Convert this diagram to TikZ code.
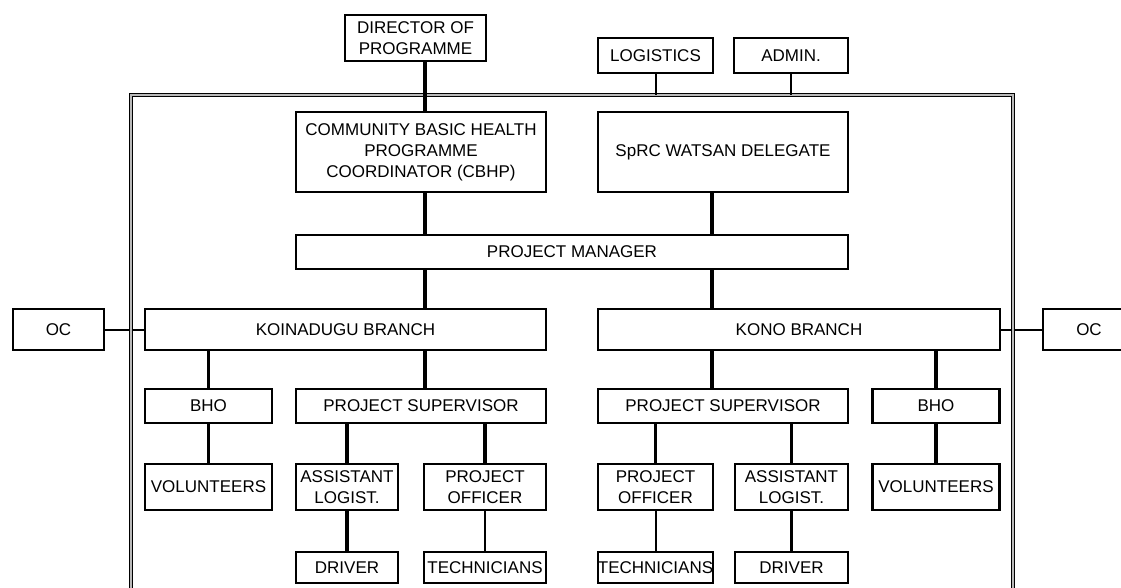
\documentclass[tikz,border=0pt]{standalone}
\usepackage{fontspec}
\setmainfont{Liberation Sans}
\usetikzlibrary{positioning}

\newcommand{\orgfont}{\fontsize{17}{21}\selectfont}

\begin{document}
\begin{tikzpicture}[
    x=1pt, y=-1pt,
    box/.style={draw, line width=2.2pt, inner sep=0pt, align=center, font=\orgfont, minimum width=#1},
    head/.style={box=#1, minimum height=46},
    staff/.style={box=#1, minimum height=35},
    lead/.style={box=#1, minimum height=80},
    bar/.style={box=#1, minimum height=34},
    branch/.style={box=#1, minimum height=41},
    post/.style={box=#1, minimum height=46},
    base/.style={box=#1, minimum height=31},
    conn/.style={line width=3.2pt},
    link/.style={line width=2pt},
    frame/.style={line width=1.1pt, double=gray!55, double distance=2pt},
]

\useasboundingbox (0,0) rectangle (1121,587);
\clip (0,0) rectangle (1121,587);

% ── Spines and frame ──
\coordinate (spineL) at (425,0);
\coordinate (spineR) at (712,0);
\coordinate (frametop) at (0,95);

% ── Top ──
\node[head=141] (dir) at (415.5,38) {DIRECTOR OF\\PROGRAMME};
\node[staff=115] (logi) at (655.5,55.5) {LOGISTICS};
\node[staff=114] (admin) at (791,55.5) {ADMIN.};

% ── Coordinators ──
\node[lead=250] (cbhp) at (421,152) {COMMUNITY BASIC HEALTH\\PROGRAMME\\COORDINATOR (CBHP)};
\node[lead=250] (watsan) at (723,152) {SpRC WATSAN DELEGATE};
\node[bar=552] (pm) at (572,252) {PROJECT MANAGER};

% ── Branches ──
\node[branch=91] (ocL) at (58.5,329.5) {OC};
\node[branch=401] (koin) at (345.5,329.5) {KOINADUGU BRANCH};
\node[branch=402] (kono) at (799,329.5) {KONO BRANCH};
\node[branch=92] (ocR) at (1089,329.5) {OC};

% ── Koinadugu side ──
\node[bar=127] (bhoL) at (208.5,406) {BHO};
\node[bar=250] (psL) at (421,406) {PROJECT SUPERVISOR};
\node[post=127] (volL) at (208.5,487) {VOLUNTEERS};
\node[post=102] (alL) at (347,487) {ASSISTANT\\LOGIST.};
\node[post=122] (poL) at (485,487) {PROJECT\\OFFICER};
\node[base=102] (drvL) at (347,567.5) {DRIVER};
\node[base=122] (techL) at (485,567.5) {TECHNICIANS};

% ── Kono side ──
\node[bar=250] (psR) at (723,406) {PROJECT SUPERVISOR};
\node[bar=127] (bhoR) at (936,406) {BHO};
\node[post=115] (poR) at (655.5,487) {PROJECT\\OFFICER};
\node[post=113] (alR) at (791.5,487) {ASSISTANT\\LOGIST.};
\node[post=127] (volR) at (936,487) {VOLUNTEERS};
\node[base=115] (techR) at (655.5,567.5) {TECHNICIANS};
\node[base=113] (drvR) at (791.5,567.5) {DRIVER};

% ── Side links ──
\draw[link] (ocL.east) -- (ocL.east -| koin.west);
\draw[link] (kono.east) -- (kono.east -| ocR.west);

% ── Frame ──
\draw[frame] (131,600) -- (131,95) -- (1013,95) -- (1013,600);

% ── Connectors ──
\draw[link] (logi.south) -- (logi.south |- frametop);
\draw[link] (admin.south) -- (admin.south |- frametop);
\draw[conn] (dir.south -| spineL) -- (cbhp.north -| spineL);
\draw[conn] (cbhp.south -| spineL) -- (pm.north -| spineL);
\draw[conn] (watsan.south -| spineR) -- (pm.north -| spineR);
\draw[conn] (pm.south -| spineL) -- (koin.north -| spineL);
\draw[conn] (pm.south -| spineR) -- (kono.north -| spineR);
\draw[conn] (koin.south -| spineL) -- (psL.north -| spineL);
\draw[conn] (kono.south -| spineR) -- (psR.north -| spineR);
\draw[conn] (bhoL.north) -- (bhoL.north |- koin.south);
\draw[conn] (bhoR.north) -- (bhoR.north |- kono.south);
\draw[conn] (bhoL) -- (volL);
\draw[conn] (bhoR) -- (volR);
\draw[conn] (alL.north) -- (alL.north |- psL.south);
\draw[conn] (poL.north) -- (poL.north |- psL.south);
\draw[conn] (poR.north) -- (poR.north |- psR.south);
\draw[conn] (alR.north) -- (alR.north |- psR.south);
\draw[conn] (alL) -- (drvL);
\draw[conn] (alR) -- (drvR);
\draw[link] (poL) -- (techL);
\draw[link] (poR) -- (techR);

\end{tikzpicture}
\end{document}
